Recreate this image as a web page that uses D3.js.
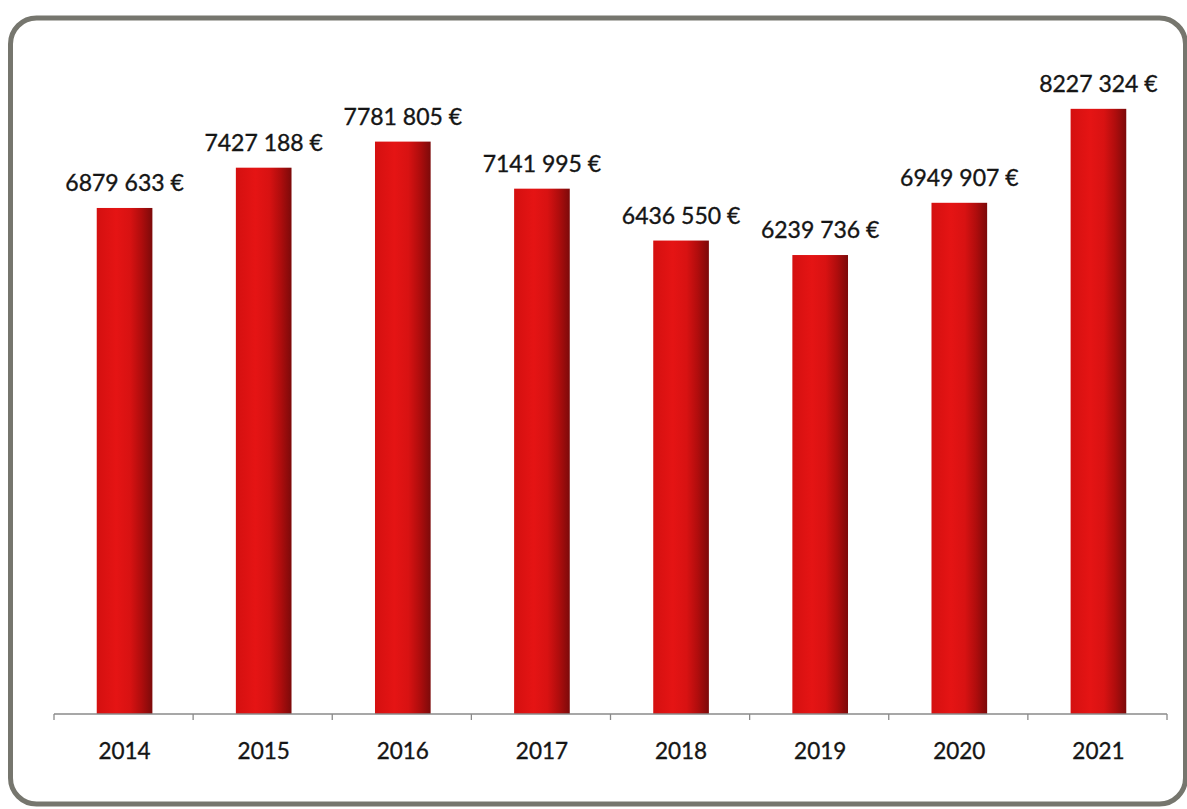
<!DOCTYPE html>
<html>
<head>
<meta charset="utf-8">
<script src="https://cdn.jsdelivr.net/npm/d3@7"></script>
<style>
  html, body { margin: 0; padding: 0; background: #ffffff; }
  svg { display: block; }
</style>
</head>
<body>
<svg id="chart" width="1187" height="809"></svg>
<script>
// Yearly totals, in euros
const years = ["2014", "2015", "2016", "2017", "2018", "2019", "2020", "2021"];
const amounts = [6879633, 7427188, 7781805, 7141995, 6436550, 6239736, 6949907, 8227324];
const amountLabels = ["6879 633 €", "7427 188 €", "7781 805 €", "7141 995 €", "6436 550 €", "6239 736 €", "6949 907 €", "8227 324 €"];

const svg = d3.select("#chart");

// Rounded frame around the chart
svg.append("rect")
  .attr("x", 10.5).attr("y", 18)
  .attr("width", 1175).attr("height", 786)
  .attr("rx", 26).attr("ry", 26)
  .attr("fill", "#ffffff")
  .attr("stroke", "#76766e")
  .attr("stroke-width", 5);

const plot = { left: 54, right: 1167, top: 52, bottom: 714 };

const x = d3.scaleBand()
  .domain(years)
  .range([plot.left, plot.right])
  .paddingInner(0.6)
  .paddingOuter(0.3);

const y = d3.scaleLinear()
  .domain([0, 9000000])
  .range([plot.bottom, plot.top]);

// Horizontal shading across each column
const defs = svg.append("defs");
const grad = defs.append("linearGradient")
  .attr("id", "barShade")
  .attr("x1", "0%").attr("x2", "100%")
  .attr("y1", "0%").attr("y2", "0%");
[
  [0, "#d41010"],
  [0.35, "#e51414"],
  [0.6, "#d81212"],
  [0.8, "#b00d0d"],
  [1, "#7c0a0a"]
].forEach(([o, c]) => grad.append("stop").attr("offset", o).attr("stop-color", c));

const data = years.map((yr, i) => ({ year: yr, value: amounts[i], label: amountLabels[i] }));

svg.append("g")
  .selectAll("rect")
  .data(data)
  .join("rect")
  .attr("x", d => x(d.year) + 1)
  .attr("y", d => y(d.value))
  .attr("width", x.bandwidth())
  .attr("height", d => y(0) - y(d.value))
  .attr("fill", "url(#barShade)");

// Category axis with ticks on the band boundaries
const axisG = svg.append("g").attr("transform", `translate(0,${plot.bottom})`);
axisG.append("line")
  .attr("x1", plot.left).attr("x2", plot.right)
  .attr("stroke", "#8a8a8a").attr("stroke-width", 1.3);

const boundaries = d3.range(years.length + 1).map(i => plot.left + i * (plot.right - plot.left) / years.length);
axisG.selectAll("line.tick")
  .data(boundaries)
  .join("line")
  .attr("class", "tick")
  .attr("x1", d => d).attr("x2", d => d)
  .attr("y1", 0).attr("y2", 6)
  .attr("stroke", "#8a8a8a").attr("stroke-width", 1.3);

const xAxis = d3.axisBottom(x).tickSize(0).tickPadding(0);
const xg = svg.append("g")
  .attr("transform", `translate(1,${plot.bottom})`)
  .call(xAxis);
xg.select(".domain").remove();
xg.selectAll("text")
  .attr("dy", 0)
  .attr("y", 45)
  .attr("font-family", "Lato, 'Open Sans', sans-serif")
  .attr("font-size", 22.5)
  .attr("fill", "#151515")
  .attr("stroke", "#151515")
  .attr("stroke-width", 0.35);

// Value labels above each column
svg.append("g")
  .selectAll("text")
  .data(data)
  .join("text")
  .attr("x", d => x(d.year) + 1 + x.bandwidth() / 2)
  .attr("y", d => y(d.value) - 17)
  .attr("text-anchor", "middle")
  .attr("font-family", "Lato, 'Open Sans', sans-serif")
  .attr("font-size", 23)
  .attr("fill", "#151515")
  .attr("stroke", "#151515")
  .attr("stroke-width", 0.35)
  .text(d => d.label);
</script>
</body>
</html>
